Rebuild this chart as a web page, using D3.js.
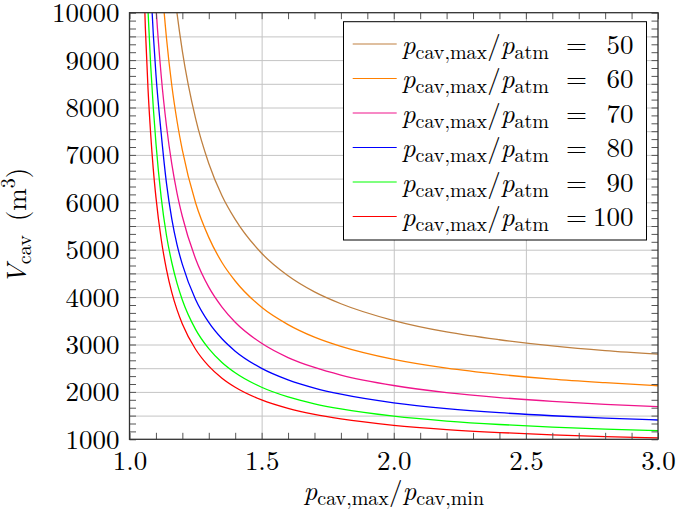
<!DOCTYPE html>
<html>
<head>
<meta charset="utf-8">
<script src="https://cdn.jsdelivr.net/npm/d3@7"></script>
<style>
  html, body { margin: 0; padding: 0; background: #fff; }
  svg { display: block; }
</style>
</head>
<body>
<svg id="chart" width="677" height="523"></svg>
<script>
// ---- data ----
const ratio = [1.05, 1.06, 1.07, 1.08, 1.09, 1.10, 1.12, 1.14, 1.16, 1.18, 1.20, 1.25, 1.30, 1.35, 1.40, 1.50, 1.60, 1.70, 1.80, 2.00, 2.20, 2.40, 2.60, 2.80, 3.00];
const v50  = [30500, 25800, 22400, 19800, 17900, 16300, 13900, 12200, 10950, 9980, 9190, 7770, 6820, 6140, 5640, 4925, 4450, 4110, 3860, 3505, 3265, 3100, 2970, 2870, 2795];
const v60  = [23600, 20000, 17300, 15400, 13800, 12600, 10800, 9460, 8470, 7710, 7100, 5990, 5260, 4730, 4340, 3785, 3420, 3155, 2960, 2685, 2500, 2370, 2270, 2195, 2130];
const v70  = [19100, 16100, 14000, 12400, 11150, 10150, 8670, 7610, 6810, 6190, 5700, 4810, 4210, 3790, 3470, 3025, 2725, 2515, 2355, 2135, 1985, 1880, 1800, 1737, 1688];
const v80  = [16000, 13700, 11900, 10600, 9550, 8700, 7450, 6400, 5650, 5100, 4690, 3950, 3465, 3120, 2860, 2497, 2255, 2082, 1952, 1770, 1649, 1562, 1497, 1447, 1407];
const v90  = [13400, 11600, 10050, 8900, 8000, 7250, 6100, 5300, 4730, 4290, 3940, 3320, 2913, 2622, 2404, 2098, 1894, 1749, 1640, 1487, 1385, 1312, 1258, 1215, 1182];
const v100 = [11460, 9680, 8400, 7450, 6700, 6110, 5220, 4580, 4100, 3730, 3435, 2900, 2543, 2289, 2098, 1830, 1652, 1524, 1429, 1295, 1206, 1142, 1094, 1057, 1028];

const seriesValues = [v50, v60, v70, v80, v90, v100];
const seriesNames  = ["50", "60", "70", "80", "90", "100"];
const seriesColors = ["#bf8040", "#ff8000", "#f0148c", "#0000ff", "#00ff00", "#ff0000"];

const xTickLabels = [1.0, 1.5, 2.0, 2.5, 3.0];
const yTickLabels = [1000, 2000, 3000, 4000, 5000, 6000, 7000, 8000, 9000, 10000];

// ---- layout ----
const FONT = "Latin Modern Roman, CMU Serif, Liberation Serif, serif";
const FS = 27, SUB = 20;
const L = 129.5, R = 658, T = 12.7, B = 439.3;
const svg = d3.select("#chart");
const x = d3.scaleLinear().domain([1, 3]).range([L, R]);
const y = d3.scaleLinear().domain([1000, 10000]).range([B, T]);

const xMinor = d3.range(0, 21).map(i => 1 + i * 0.1);
const yMinor = d3.range(0, 55).map(i => 1000 + i * 500 / 3).filter(v => v <= 10000.5);
const xGrid = [1.5, 2.0, 2.5];
const yGrid = d3.range(1, 18).map(i => 1000 + i * 500);

// grid
const gridX = svg.append("g").attr("transform", `translate(0,${B})`)
  .call(d3.axisBottom(x).tickValues(xGrid).tickSize(-(B - T)).tickFormat(""));
const gridY = svg.append("g").attr("transform", `translate(${L},0)`)
  .call(d3.axisLeft(y).tickValues(yGrid).tickSize(-(R - L)).tickFormat(""));
[gridX, gridY].forEach(g => {
  g.select(".domain").remove();
  g.selectAll("line").attr("stroke", "#c4c4c4").attr("stroke-width", 1);
});

// clip
svg.append("clipPath").attr("id", "clip").append("rect")
  .attr("x", L).attr("y", T).attr("width", R - L).attr("height", B - T);

// curves
const line = d3.line().x((d, i) => x(ratio[i])).y(d => y(d)).curve(d3.curveMonotoneX);
const curves = svg.append("g").attr("clip-path", "url(#clip)");
seriesValues.forEach((vals, k) => {
  curves.append("path").datum(vals)
    .attr("d", line)
    .attr("fill", "none")
    .attr("stroke", seriesColors[k])
    .attr("stroke-width", 1.3);
});

// tick marks (inward) on all four sides
const tl = 6.5;
const tickGroups = [
  svg.append("g").attr("transform", `translate(0,${B})`).call(d3.axisBottom(x).tickValues(xMinor).tickSize(-tl).tickFormat("")),
  svg.append("g").attr("transform", `translate(0,${T})`).call(d3.axisTop(x).tickValues(xMinor).tickSize(-tl).tickFormat("")),
  svg.append("g").attr("transform", `translate(${L},0)`).call(d3.axisLeft(y).tickValues(yMinor).tickSize(-tl).tickFormat("")),
  svg.append("g").attr("transform", `translate(${R},0)`).call(d3.axisRight(y).tickValues(yMinor).tickSize(-tl).tickFormat(""))
];
tickGroups.forEach(g => {
  g.select(".domain").remove();
  g.selectAll("line").attr("stroke", "#555").attr("stroke-width", 1);
});

// tick labels
const xLab = svg.append("g").attr("transform", `translate(0,${B})`)
  .call(d3.axisBottom(x).tickValues(xTickLabels).tickSize(0).tickPadding(0).tickFormat(d3.format(".1f")));
xLab.attr("font-family", FONT).attr("font-size", FS);
xLab.select(".domain").remove();
xLab.selectAll("text").attr("dy", null).attr("y", 31).attr("fill", "#000");

const yLab = svg.append("g").attr("transform", `translate(${L},0)`)
  .call(d3.axisLeft(y).tickValues(yTickLabels).tickSize(0).tickPadding(0).tickFormat(d3.format("d")));
yLab.attr("font-family", FONT).attr("font-size", FS);
yLab.select(".domain").remove();
yLab.selectAll("text").attr("x", -10).attr("dy", "0.33em").attr("fill", "#000");

// frame
svg.append("rect").attr("x", L).attr("y", T).attr("width", R - L).attr("height", B - T)
  .attr("fill", "none").attr("stroke", "#333").attr("stroke-width", 1.3);

// helper for math-like text
function mathText(sel, parts) {
  sel.attr("font-family", FONT).attr("font-size", FS).attr("fill", "#000");
  parts.forEach(p => {
    const t = sel.append("tspan").text(p.t).attr("font-size", p.s || FS);
    if (p.i) t.attr("font-style", "italic");
    if (p.dy) t.attr("dy", p.dy);
    if (p.dx) t.attr("dx", p.dx);
  });
}

// axis titles
const xt = svg.append("text").attr("x", (L + R) / 2).attr("y", 500).attr("text-anchor", "middle");
mathText(xt, [
  {t: "p", i: true}, {t: "cav,max", s: SUB, dy: 5}, {t: "/", dy: -5}, {t: "p", i: true}, {t: "cav,min", s: SUB, dy: 5}
]);

const yt = svg.append("text").attr("transform", `translate(26,${(T + B) / 2}) rotate(-90)`).attr("text-anchor", "middle");
mathText(yt, [
  {t: "V", i: true}, {t: "cav", s: SUB, dy: 5}, {t: "(m", dy: -5, dx: 14}, {t: "3", s: SUB, dy: -11}, {t: ")", dy: 11}
]);

// legend
const lg = svg.append("g");
lg.append("rect").attr("x", 343.5).attr("y", 21.7).attr("width", 303).attr("height", 218.3)
  .attr("fill", "#fff").attr("stroke", "#000").attr("stroke-width", 1);
seriesNames.forEach((name, k) => {
  const by = 53.5 + k * 34.5;
  lg.append("line").attr("x1", 352.7).attr("x2", 396.7).attr("y1", by - 9.5).attr("y2", by - 9.5)
    .attr("stroke", seriesColors[k]).attr("stroke-width", 1.2);
  const tt = lg.append("text").attr("x", 401.7).attr("y", by);
  mathText(tt, [
    {t: "p", i: true}, {t: "cav,max", s: SUB, dy: 5}, {t: "/", dy: -5}, {t: "p", i: true}, {t: "atm", s: SUB, dy: 5}
  ]);
  const eq = lg.append("text").attr("x", 566).attr("y", by);
  mathText(eq, [{t: "="}]);
  const num = lg.append("text").attr("x", 633.5).attr("y", by).attr("text-anchor", "end");
  mathText(num, [{t: name}]);
});
</script>
</body>
</html>
